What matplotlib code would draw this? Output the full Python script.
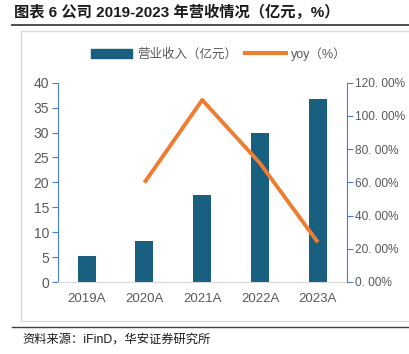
import numpy as np
import matplotlib.pyplot as plt
from matplotlib.patches import Rectangle
from matplotlib.lines import Line2D

plt.rcParams['font.family'] = ['Liberation Sans', 'Noto Sans CJK SC', 'DejaVu Sans']

years = ["2019A", "2020A", "2021A", "2022A", "2023A"]
revenue = [5.2, 8.3, 17.5, 29.9, 36.8]
yoy = [None, 59.8, 109.6, 71.5, 23.9]

W, H = 409, 354
fig = plt.figure(figsize=(W / 100, H / 100), dpi=100)

bar_c = "#185f80"
line_c = "#ed7d31"
spine_c = "#4a7bd6"
txt_c = "#595959"

# outer frame + rules
fig.patches.append(Rectangle((21 / W, 1 - 321 / H), 400 / W, 290 / H, transform=fig.transFigure,
                             fill=False, edgecolor="#d9d9d9", lw=1.0))
fig.add_artist(Line2D([12 / W, 1], [1 - 25 / H] * 2, color="#404040", lw=1.3))
fig.add_artist(Line2D([12 / W, 1], [1 - 327 / H] * 2, color="#404040", lw=1.0))
fig.text(14 / W, 1 - 12 / H, "图表 6 公司 2019-2023 年营收情况（亿元，%）", fontsize=11,
         fontweight="bold", va="center", ha="left", color="#1a1a1a")
fig.text(22 / W, 1 - 340 / H, "资料来源：iFinD，华安证券研究所", fontsize=8.8,
         va="center", ha="left", color="#1a1a1a")

ax = fig.add_axes([57.7 / W, 1 - 282 / H, 289 / W, 199.3 / H])
x = np.arange(len(years))
ax.bar(x, revenue, width=0.31, color=bar_c, zorder=2)
ax.set_xlim(-0.5, 4.5)
ax.set_ylim(0, 40)
ax.set_yticks(range(0, 41, 5))
ax.set_xticks(x)
ax.set_xticklabels(years)
for s in ["top", "right"]:
    ax.spines[s].set_visible(False)
ax.spines["left"].set_color(spine_c)
ax.spines["bottom"].set_color("#d9d9d9")
ax.tick_params(axis="y", colors=spine_c, labelcolor=txt_c, labelsize=10, length=4, pad=2)
ax.tick_params(axis="x", length=0, labelcolor=txt_c, labelsize=9.5, pad=8)

ax2 = ax.twinx()
yx = [i for i, v in enumerate(yoy) if v is not None]
yv = [v for v in yoy if v is not None]
ax2.plot(yx, yv, color=line_c, lw=2.8, zorder=3, solid_capstyle="butt")
ax2.set_ylim(0, 120)
ax2.set_yticks(range(0, 121, 20))
ax2.set_yticklabels([f"{t}. 00%" for t in range(0, 121, 20)])
for s in ["top", "left", "bottom"]:
    ax2.spines[s].set_visible(False)
ax2.spines["right"].set_color(spine_c)
ax2.tick_params(axis="y", colors=spine_c, labelcolor=txt_c, labelsize=8.6, length=4, pad=2)

handles = [Rectangle((0, 0), 1, 1, color=bar_c), Line2D([0], [0], color=line_c, lw=3)]
fig.legend(handles, ["营业收入（亿元）", "yoy（%）"], loc="center", bbox_to_anchor=(0.535, 1 - 54 / H),
           ncol=2, frameon=False, fontsize=9, labelcolor=txt_c, handlelength=3.3,
           handleheight=0.8, columnspacing=0.6, handletextpad=0.4)

fig.savefig("out.png", dpi=100)
